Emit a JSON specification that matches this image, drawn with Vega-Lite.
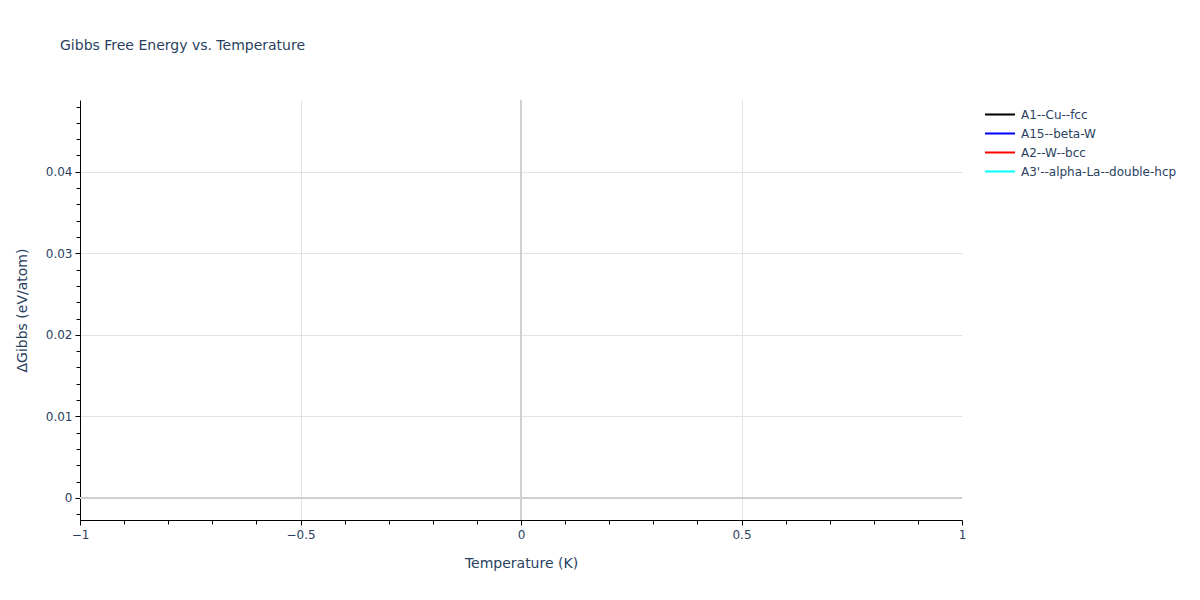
{
  "$schema": "https://vega.github.io/schema/vega-lite/v6.json",
  "autosize": "none",
  "width": 882,
  "height": 420,
  "padding": {"left": 80, "top": 100, "right": 238, "bottom": 80},
  "background": "white",
  "config": {
    "font": "DejaVu Sans",
    "view": {"stroke": null}
  },
  "title": {
    "text": "Gibbs Free Energy vs. Temperature",
    "anchor": "start",
    "frame": "group",
    "dx": -20,
    "offset": 46,
    "fontSize": 14,
    "fontWeight": "normal",
    "color": "#2a3f5f",
    "font": "DejaVu Sans"
  },
  "data": {
    "values": [
      {"T": 0, "G": 0, "phase": "A1--Cu--fcc"},
      {"T": 0, "G": 0.0465, "phase": "A15--beta-W"},
      {"T": 0, "G": 0.012, "phase": "A2--W--bcc"},
      {"T": 0, "G": 0.006, "phase": "A3'--alpha-La--double-hcp"}
    ]
  },
  "layer": [
    {
      "mark": {"type": "line", "strokeWidth": 2},
      "encoding": {
        "x": {
          "field": "T",
          "type": "quantitative",
          "scale": {"domain": [-1, 1], "nice": false, "zero": false},
          "axis": {
            "title": "Temperature (K)",
            "titleFontSize": 14,
            "titleFontWeight": "normal",
            "titleColor": "#2a3f5f",
            "titlePadding": 16,
            "tickCount": 40,
            "values": [-1, -0.9, -0.8, -0.7, -0.6, -0.5, -0.4, -0.3, -0.2, -0.1, 0, 0.1, 0.2, 0.3, 0.4, 0.5, 0.6, 0.7, 0.8, 0.9, 1],
            "labelExpr": "abs(datum.value*2 - round(datum.value*2)) < 1e-6 ? format(datum.value, '~g') : ''",
            "labelFontSize": 12,
            "labelColor": "#2a3f5f",
            "labelPadding": 4,
            "labelFlush": false,
            "labelOverlap": false,
            "domainColor": "#000000",
            "domainWidth": 1,
            "tickColor": "#000000",
            "tickSize": {"condition": {"test": "abs(datum.value*2 - round(datum.value*2)) < 1e-6", "value": 5}, "value": 4},
            "grid": true,
            "gridColor": "#e2e2e2",
            "gridOpacity": {"condition": {"test": "abs(datum.value*2 - round(datum.value*2)) < 1e-6 && abs(datum.value) < 0.9", "value": 1}, "value": 0}
          }
        },
        "y": {
          "field": "G",
          "type": "quantitative",
          "scale": {"domain": [-0.0027, 0.0488], "nice": false, "zero": false},
          "axis": {
            "title": "ΔGibbs (eV/atom)",
            "titleFontSize": 14,
            "titleFontWeight": "normal",
            "titleColor": "#2a3f5f",
            "titlePadding": 16,
            "tickCount": 40,
            "values": [-0.002, 0, 0.002, 0.004, 0.006, 0.008, 0.01, 0.012, 0.014, 0.016, 0.018, 0.02, 0.022, 0.024, 0.026, 0.028, 0.03, 0.032, 0.034, 0.036, 0.038, 0.04, 0.042, 0.044, 0.046, 0.048],
            "labelExpr": "abs(datum.value*100 - round(datum.value*100)) < 1e-6 ? format(datum.value, '~g') : ''",
            "labelFontSize": 12,
            "labelColor": "#2a3f5f",
            "labelPadding": 3,
            "labelOverlap": false,
            "domainColor": "#000000",
            "domainWidth": 1,
            "tickColor": "#000000",
            "tickSize": {"condition": {"test": "abs(datum.value*100 - round(datum.value*100)) < 1e-6", "value": 5}, "value": 4},
            "grid": true,
            "gridColor": "#e2e2e2",
            "gridOpacity": {"condition": {"test": "abs(datum.value*100 - round(datum.value*100)) < 1e-6", "value": 1}, "value": 0}
          }
        },
        "color": {
          "field": "phase",
          "type": "nominal",
          "scale": {
            "domain": ["A1--Cu--fcc", "A15--beta-W", "A2--W--bcc", "A3'--alpha-La--double-hcp"],
            "range": ["#000000", "#0000ff", "#ff0000", "#00ffff"]
          },
          "legend": {
            "title": null,
            "orient": "none",
            "legendX": 904,
            "legendY": 7,
            "symbolType": "stroke",
            "symbolSize": 900,
            "symbolStrokeWidth": 2,
            "clipHeight": 15,
            "labelFontSize": 12,
            "labelColor": "#2a3f5f",
            "labelOffset": 5,
            "rowPadding": 4,
            "padding": 0
          }
        }
      }
    },
    {
      "mark": {"type": "rule", "color": "#d0d0d0", "strokeWidth": 2},
      "encoding": {"y": {"datum": 0, "type": "quantitative"}}
    },
    {
      "mark": {"type": "rule", "color": "#d0d0d0", "strokeWidth": 2},
      "encoding": {"x": {"datum": 0, "type": "quantitative"}}
    }
  ]
}
